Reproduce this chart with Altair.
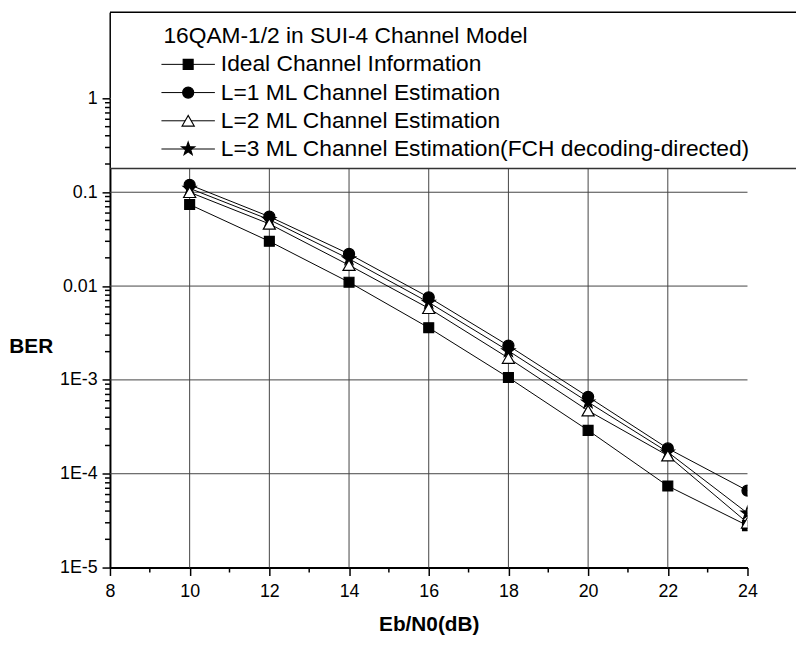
import altair as alt
import pandas as pd

# ---- data ----
ebn0 = [10, 12, 14, 16, 18, 20, 22, 24]
ber_ideal = [0.074, 0.030, 0.011, 0.0036, 0.00106, 0.00029, 7.4e-5, 2.8e-5]
ber_l1 = [0.12, 0.055, 0.022, 0.0076, 0.00232, 0.00066, 1.86e-4, 6.6e-5]
ber_l2 = [0.10, 0.046, 0.0167, 0.0058, 0.00171, 0.00047, 1.56e-4, 3.0e-5]
ber_l3 = [0.11, 0.051, 0.0195, 0.0067, 0.00204, 0.00058, 1.7e-4, 3.8e-5]

names = [
    "Ideal Channel Information",
    "L=1 ML Channel Estimation",
    "L=2 ML Channel Estimation",
    "L=3 ML Channel Estimation(FCH decoding-directed)",
]
legend_title = "16QAM-1/2 in SUI-4 Channel Model"

x_major = [8, 10, 12, 14, 16, 18, 20, 22, 24]
x_minor = [9, 11, 13, 15, 17, 19, 21, 23]
x_grid = [10, 12, 14, 16, 18, 20, 22]
y_major = [1e-5, 1e-4, 1e-3, 0.01, 0.1, 1]
y_minor = [m * 10.0 ** e for e in range(-5, 0) for m in range(2, 10)]
y_grid = [1e-4, 1e-3, 0.01, 0.1, 1]

FONT = "Liberation Sans"

STAR = ("M0,-1L0.235,-0.324L0.951,-0.309L0.38,0.124L0.588,0.809L0,0.4"
        "L-0.588,0.809L-0.38,0.124L-0.951,-0.309L-0.235,-0.324Z")

# styles per series (order matches names)
shapes = ["square", "circle", "triangle-up", STAR]
fills = ["black", "black", "white", "black"]
sizes = [100, 125, 150, 190]
draw_order = [0, 1, 3, 2]
values = [ber_ideal, ber_l1, ber_l2, ber_l3]

xs = alt.Scale(domain=[8, 24], nice=False, zero=False)
ys = alt.Scale(type="log", domain=[1e-5, 8.3], nice=False)

x_axis = alt.Axis(
    values=x_major,
    title="Eb/N0(dB)",
    titleFontSize=21,
    titleFontWeight="bold",
    titlePadding=14,
    format="d",
    labelFontSize=18,
    labelPadding=7,
    labelFlush=False,
    labelOverlap=False,
    tickSize=8,
    tickWidth=1.5,
    tickColor="black",
    domainColor="black",
    domainWidth=2,
    grid=False,
)
y_axis = alt.Axis(
    values=y_major,
    title="BER",
    titleAngle=0,
    titleFontSize=21,
    titleFontWeight="bold",
    titleAlign="center",
    titleBaseline="middle",
    titleX=-80,
    titleY=338,
    labelExpr="datum.value >= 0.01 ? toString(datum.value) : '1E' + round(log(datum.value)/LN10)",
    labelFontSize=18,
    labelPadding=5,
    labelOverlap=False,
    labelFlush=False,
    tickSize=8,
    tickWidth=1.5,
    tickColor="black",
    domainColor="black",
    domainWidth=2,
    grid=False,
)

layers = []

# grid lines
gx = alt.Chart(pd.DataFrame({"x": x_grid})).mark_rule(color="#444", strokeWidth=1).encode(
    x=alt.X("x:Q", scale=xs, axis=x_axis)
)
gy = alt.Chart(pd.DataFrame({"y": y_grid})).mark_rule(color="#444", strokeWidth=1).encode(
    y=alt.Y("y:Q", scale=ys, axis=y_axis)
)
layers += [gx, gy]

# minor ticks
mx = alt.Chart(pd.DataFrame({"x": x_minor})).mark_rule(color="black", strokeWidth=1.5).encode(
    x=alt.X("x:Q", scale=xs), y=alt.value(561), y2=alt.value(566)
)
my = alt.Chart(pd.DataFrame({"y": y_minor})).mark_rule(color="black", strokeWidth=1.5).encode(
    y=alt.Y("y:Q", scale=ys), x=alt.value(-5), x2=alt.value(0)
)
layers += [mx, my]

# series lines
for i in range(4):
    d = pd.DataFrame({"x": ebn0, "y": values[i]})
    layers.append(
        alt.Chart(d).mark_line(color="black", strokeWidth=1, clip=True).encode(
            x=alt.X("x:Q", scale=xs), y=alt.Y("y:Q", scale=ys)
        )
    )
# series markers
for i in draw_order:
    d = pd.DataFrame({"x": ebn0, "y": values[i]})
    layers.append(
        alt.Chart(d).mark_point(
            shape=shapes[i], fill=fills[i], filled=True, stroke="black", strokeWidth=1.2,
            size=sizes[i], opacity=1, clip=True,
        ).encode(x=alt.X("x:Q", scale=xs), y=alt.Y("y:Q", scale=ys))
    )

# legend box
dummy = alt.Chart(pd.DataFrame({"a": [0]}))
layers.append(dummy.mark_rect(fill="white").encode(
    x=alt.value(1), x2=alt.value(720), y=alt.value(0), y2=alt.value(158)))
layers.append(dummy.mark_rule(color="black", strokeWidth=1.5).encode(
    x=alt.value(0), x2=alt.value(720), y=alt.value(0)))
layers.append(dummy.mark_rule(color="#333", strokeWidth=1.5).encode(
    x=alt.value(0), x2=alt.value(720), y=alt.value(158)))
layers.append(dummy.mark_text(
    text=legend_title, align="left", baseline="middle", fontSize=23, font=FONT, color="black"
).encode(x=alt.value(54), y=alt.value(24)))

for i, name in enumerate(names):
    yy = 52.7 + i * 28.5
    layers.append(dummy.mark_rule(color="black", strokeWidth=1).encode(
        x=alt.value(52), x2=alt.value(106), y=alt.value(yy)))
    layers.append(dummy.mark_point(
        shape=shapes[i], fill=fills[i], filled=True, stroke="black", strokeWidth=1.2,
        size=sizes[i], opacity=1,
    ).encode(x=alt.value(79), y=alt.value(yy)))
    layers.append(dummy.mark_text(
        text=name, align="left", baseline="middle", fontSize=23, font=FONT, color="black"
    ).encode(x=alt.value(112), y=alt.value(yy)))

chart = (
    alt.layer(*layers)
    .properties(
        width=644,
        height=561,
        autosize=alt.AutoSizeParams(type="none"),
        padding={"left": 103, "top": 1, "right": 49, "bottom": 75},
    )
    .configure(font=FONT)
    .configure_view(stroke=None)
    .configure_axis(labelFont=FONT, titleFont=FONT, labelColor="black", titleColor="black")
)

chart.save("out.html", embed_options={"renderer": "svg", "actions": False})
